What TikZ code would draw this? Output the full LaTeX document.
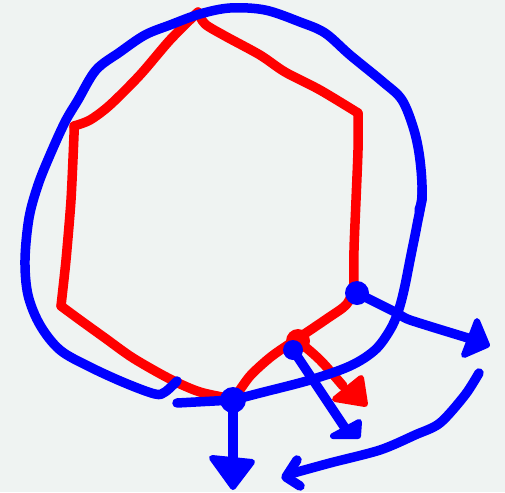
\documentclass[tikz,border=0pt]{standalone}
\definecolor{pr}{RGB}{255,0,0}
\definecolor{pb}{RGB}{0,0,255}
\definecolor{bg}{RGB}{239,243,242}
\begin{document}
\begin{tikzpicture}[x=1pt,y=-1pt,line cap=round,line join=round,
  redline/.style={draw=pr,line width=9.5pt},
  blueline/.style={draw=pb,line width=9.5pt},
  bluefill/.style={fill=pb,draw=pb,line width=6pt},
  redfill/.style={fill=pr,draw=pr,line width=6pt}]
\fill[bg] (0,0) rectangle (505,492);
\useasboundingbox (0,0) rectangle (505,492);
% named points
\coordinate (dA) at (233,400);
\coordinate (dB) at (357,293);
\coordinate (dC) at (293,350);
\coordinate (rC) at (298,341);
% red hexagon
\draw[redline] plot[smooth,tension=0.5] coordinates {(198,12) (205,24) (225,36) (260,55) (285,72) (320,90) (358,113)};
\draw[redline] plot[smooth,tension=0.4] coordinates {(358,113) (358,150) (356,200) (354,250) (354,290)};
\draw[redline] plot[smooth,tension=0.5] coordinates {(354,290) (346,305) (328,318) (300,337) (272,356) (250,376) (236,396)};
\draw[redline] plot[smooth,tension=0.5] coordinates {(198,12) (170,40) (140,75) (110,105) (90,120) (74,126)};
\draw[redline] plot[smooth,tension=0.4] coordinates {(74,126) (74,135) (71,200) (66,260) (61,306)};
\draw[redline] plot[smooth,tension=0.5] coordinates {(61,306) (80,320) (105,338) (133,358) (170,379) (200,392) (233,399)};
% red branch
\fill[pr] (rC) circle (12);
\draw[redline] plot[smooth,tension=0.6] coordinates {(rC) (320,360) (343,386)};
\draw[redfill] (361,378) -- (365,404) -- (335,399) -- cycle;
% blue loop
\draw[blueline] plot[smooth,tension=0.55] coordinates {(177,381) (165,392) (155,394) (125,383) (90,367) (60,350) (40,325) (28,295) (25,260) (29,218) (38,185) (50,155) (65,122) (78,100) (96,70) (120,52) (145,35) (170,25) (200,14) (230,8) (265,10) (300,22) (325,33) (350,55) (383,82) (402,100) (414,130) (420,160) (422,195) (417,225) (411,255) (404,290) (398,312) (390,330) (375,350) (350,366) (310,380) (260,393) (dA)};
\draw[blueline] plot[smooth,tension=0.5] coordinates {(422,188) (422,200) (419,210)};
\draw[blueline] (177,403) -- (dA);
% blue dots
\fill[pb] (dA) circle (13);
\fill[pb] (dB) circle (12);
\fill[pb] (dC) circle (10);
% blue arrows
\draw[blueline] (dA) -- (233,465);
\draw[bluefill] (212,458) -- (252,462) -- (233,487) -- cycle;
\draw[blueline] plot[smooth,tension=0.4] coordinates {(dB) (395,312) (410,320) (468,338)};
\draw[bluefill] (477,321) -- (487,345) -- (464,355) -- cycle;
\draw[blueline] (dC) -- (345,428);
\draw[bluefill] (333,436) -- (359,422) -- (358,436) -- cycle;
% curved arrow
\draw[blueline] plot[smooth,tension=0.5] coordinates {(479,373) (465,395) (440,423) (415,435) (380,450) (330,463) (290,474)};
\draw[blueline] (297,460) -- (286,477) -- (300,486);
\end{tikzpicture}
\end{document}
